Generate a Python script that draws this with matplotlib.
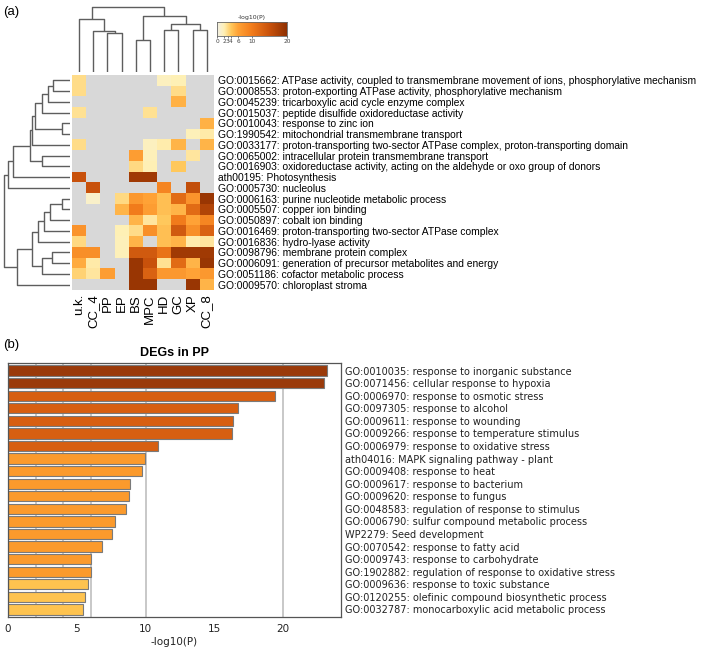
import numpy as np
import matplotlib
matplotlib.use("Agg")
import matplotlib.pyplot as plt
from matplotlib.colors import LinearSegmentedColormap, BoundaryNorm, ListedColormap

# ---------------- data: heatmap ----------------
col_labels = ["u.k.", "CC_4", "PP", "EP", "BS", "MPC", "HD", "GC", "XP", "CC_8"]
row_labels = [
    "GO:0015662: ATPase activity, coupled to transmembrane movement of ions, phosphorylative mechanism",
    "GO:0008553: proton-exporting ATPase activity, phosphorylative mechanism",
    "GO:0045239: tricarboxylic acid cycle enzyme complex",
    "GO:0015037: peptide disulfide oxidoreductase activity",
    "GO:0010043: response to zinc ion",
    "GO:1990542: mitochondrial transmembrane transport",
    "GO:0033177: proton-transporting two-sector ATPase complex, proton-transporting domain",
    "GO:0065002: intracellular protein transmembrane transport",
    "GO:0016903: oxidoreductase activity, acting on the aldehyde or oxo group of donors",
    "ath00195: Photosynthesis",
    "GO:0005730: nucleolus",
    "GO:0006163: purine nucleotide metabolic process",
    "GO:0005507: copper ion binding",
    "GO:0050897: cobalt ion binding",
    "GO:0016469: proton-transporting two-sector ATPase complex",
    "GO:0016836: hydro-lyase activity",
    "GO:0098796: membrane protein complex",
    "GO:0006091: generation of precursor metabolites and energy",
    "GO:0051186: cofactor metabolic process",
    "GO:0009570: chloroplast stroma",
]
n = np.nan
heat_values = [
    # u.k. CC_4  PP   EP    BS    MPC   HD    GC    XP    CC_8
    [3.0, n,    n,   n,    n,    n,    1.6,  2.0,  n,    n],
    [3.0, n,    n,   n,    n,    n,    n,    3.0,  n,    n],
    [n,   n,    n,   n,    n,    n,    n,    5.2,  n,    n],
    [2.8, n,    n,   n,    n,    2.8,  n,    n,    n,    n],
    [n,   n,    n,   n,    n,    n,    n,    n,    n,    5.2],
    [n,   n,    n,   n,    n,    n,    n,    n,    1.8,  2.3],
    [3.0, n,    n,   n,    n,    1.6,  2.2,  5.0,  n,    5.0],
    [n,   n,    n,   n,    6.5,  1.8,  n,    n,    2.5,  n],
    [n,   n,    n,   n,    3.2,  2.0,  n,    4.0,  n,    n],
    [15.0, n,   n,   n,    18.5, 18.5, n,    n,    n,    n],
    [n,   15.0, n,   n,    n,    n,    9.0,  n,    15.5, n],
    [n,   1.2,  n,   3.2,  7.0,  6.0,  4.5,  12.0, 7.5,  19.0],
    [n,   n,    n,   5.0,  10.0, 6.5,  4.5,  5.0,  12.0, 17.0],
    [n,   n,    n,   n,    5.0,  2.5,  4.0,  10.0, 6.0,  9.0],
    [7.5, n,    n,   2.0,  3.0,  8.0,  4.5,  14.0, 8.0,  13.0],
    [3.2, n,    n,   1.8,  5.0,  n,    4.5,  5.0,  2.2,  2.5],
    [8.0, 8.0,  n,   1.8,  14.0, 14.0, 11.0, 18.5, 18.5, 18.5],
    [5.5, 2.3,  n,   n,    19.0, 15.0, 2.8,  12.0, 5.0,  19.0],
    [3.5, 2.5,  6.5, n,    19.0, 13.0, 7.0,  7.0,  6.0,  7.0],
    [n,   n,    n,   n,    19.0, 19.0, n,    n,    19.0, 5.0],
]
colorbar_ticks = [0, 2, 3, 4, 6, 10, 20]

# dendrogram merges: (child_a, child_b, height); ids >= n_leaves refer to earlier merges
col_merges = [(2, 3, 39.4), (1, 10, 41.0), (0, 11, 53.3), (4, 5, 31.7), (6, 7, 41.7),
              (8, 9, 42.3), (14, 15, 47.7), (13, 16, 56.0), (12, 17, 65.0)]
row_merges = [(0, 1, 17), (20, 2, 22), (21, 3, 28), (4, 5, 8), (22, 23, 35), (24, 6, 38),
              (7, 8, 28), (25, 26, 40), (27, 9, 57), (28, 10, 62), (11, 12, 8), (30, 13, 20),
              (31, 14, 26), (32, 15, 32), (16, 17, 18), (34, 18, 28), (33, 35, 38),
              (36, 19, 53), (29, 37, 66)]

# ---------------- data: bar chart ----------------
bar_title = "DEGs in PP"
bar_labels = [
    "GO:0010035: response to inorganic substance",
    "GO:0071456: cellular response to hypoxia",
    "GO:0006970: response to osmotic stress",
    "GO:0097305: response to alcohol",
    "GO:0009611: response to wounding",
    "GO:0009266: response to temperature stimulus",
    "GO:0006979: response to oxidative stress",
    "ath04016: MAPK signaling pathway - plant",
    "GO:0009408: response to heat",
    "GO:0009617: response to bacterium",
    "GO:0009620: response to fungus",
    "GO:0048583: regulation of response to stimulus",
    "GO:0006790: sulfur compound metabolic process",
    "WP2279: Seed development",
    "GO:0070542: response to fatty acid",
    "GO:0009743: response to carbohydrate",
    "GO:1902882: regulation of response to oxidative stress",
    "GO:0009636: response to toxic substance",
    "GO:0120255: olefinic compound biosynthetic process",
    "GO:0032787: monocarboxylic acid metabolic process",
]
bar_values = [23.15, 23.0, 19.4, 16.7, 16.37, 16.3, 10.87, 9.99, 9.72, 8.84,
              8.79, 8.6, 7.8, 7.58, 6.8, 6.02, 6.0, 5.8, 5.63, 5.46]
bar_grid = [2, 4, 6, 10, 20]
bar_xticks = [0, 5, 10, 15, 20]
bar_bins = [0, 3, 6, 10, 20, 100]
bar_bin_colors = ["#ffe8a0", "#fec34f", "#fb9a2c", "#d75f11", "#9a3a0a"]

# ---------------- figure ----------------
W, H = 709, 651
fig = plt.figure(figsize=(W / 100, H / 100), dpi=100)
ARIAL = ["Liberation Sans", "DejaVu Sans"]


def add_ax(x0, y0, x1, y1):
    return fig.add_axes([x0 / W, 1 - y1 / H, (x1 - x0) / W, (y1 - y0) / H])


def draw_dendro(ax, merges, n_leaves, orient, color="#5e5e5e", lw=1.0):
    pos = {i: float(i) for i in range(n_leaves)}
    hgt = {i: 0.0 for i in range(n_leaves)}
    for k, (a, b, h) in enumerate(merges):
        pa, pb, ha, hb = pos[a], pos[b], hgt[a], hgt[b]
        xs = [pa, pa, pb, pb]
        ys = [ha, h, h, hb]
        if orient == "top":
            ax.plot(xs, ys, color=color, lw=lw, solid_capstyle="butt")
        else:
            ax.plot(ys, xs, color=color, lw=lw, solid_capstyle="butt")
        pos[n_leaves + k] = (pa + pb) / 2
        hgt[n_leaves + k] = h
    ax.set_axis_off()


# heatmap geometry (pixels)
hx0, hx1, hy0, hy1 = 72, 214, 75, 290
nrow, ncol = len(row_labels), len(col_labels)

cmap = LinearSegmentedColormap.from_list(
    "mscape",
    [(0.0, "#f2f0e6"), (0.1, "#fff0b5"), (0.2, "#ffc85c"), (0.3, "#ffa236"),
     (0.5, "#f27c1c"), (0.75, "#c9520c"), (1.0, "#8f3002")])
cmap.set_bad("#d8d8d8")

axh = add_ax(hx0, hy0, hx1, hy1)
data = np.array(heat_values, dtype=float)
axh.imshow(np.ma.masked_invalid(data), cmap=cmap, vmin=0, vmax=20, aspect="auto",
           interpolation="nearest")
axh.set_xticks(range(ncol))
axh.set_xticklabels(col_labels, rotation=90, fontsize=9.5, family=ARIAL)
axh.set_yticks(range(nrow))
axh.set_yticklabels(row_labels, fontsize=7.35, family=ARIAL)
axh.yaxis.tick_right()
axh.tick_params(length=0, pad=3)
for s in axh.spines.values():
    s.set_visible(False)

# column dendrogram
axc = add_ax(hx0, 0, hx1, 72)
draw_dendro(axc, col_merges, ncol, "top")
axc.set_xlim(-0.5, ncol - 0.5)
axc.set_ylim(0, 72)

# row dendrogram
axr = add_ax(0, hy0, 70, hy1)
draw_dendro(axr, row_merges, nrow, "left")
axr.set_ylim(nrow - 0.5, -0.5)
axr.set_xlim(70, 0)

# colorbar
axcb = add_ax(217, 22, 287, 36)
grad = np.linspace(0, 20, 256)[None, :]
axcb.imshow(grad, cmap=cmap, vmin=0, vmax=20, aspect="auto", extent=(0, 20, 0, 1))
axcb.set_yticks([])
axcb.set_xticks(colorbar_ticks)
axcb.set_xticklabels([str(t) for t in colorbar_ticks], fontsize=4.2, color="#444444")
axcb.tick_params(axis="x", length=1.5, width=0.5, pad=1, colors="#444444")
axcb.set_title("-log10(P)", fontsize=4.5, pad=2, color="#333333")
for s in axcb.spines.values():
    s.set_color("#666666")
    s.set_linewidth(0.6)

fig.text(3 / W, 1 - 12 / H, "(a)", fontsize=9.5, family=ARIAL, va="center", ha="left")
fig.text(3 / W, 1 - 345 / H, "(b)", fontsize=9.5, family=ARIAL, va="center", ha="left")

# ---------------- bar chart ----------------
axb = add_ax(8, 363, 341, 617)
ypos = np.arange(len(bar_values))
norm = BoundaryNorm(bar_bins, len(bar_bin_colors))
bcmap = ListedColormap(bar_bin_colors)
colors = [bcmap(norm(v)) for v in bar_values]
for g in bar_grid:
    axb.axvline(g, color="#c4c4c4", lw=1.3, zorder=0)
axb.barh(ypos, bar_values, height=0.82, color=colors, edgecolor="#7a7a7a",
         linewidth=0.8, zorder=2)
axb.set_ylim(len(bar_values) - 0.4, -0.6)
axb.set_xlim(0, 24.2)
axb.set_yticks(ypos)
axb.set_yticklabels(bar_labels, fontsize=7.0, color="#222222")
axb.yaxis.tick_right()
axb.tick_params(axis="y", length=0, pad=3)
axb.set_xticks(bar_xticks)
axb.set_xticklabels([str(t) for t in bar_xticks], fontsize=7.5, color="#222222")
axb.tick_params(axis="x", length=0, pad=5)
axb.set_xlabel("-log10(P)", fontsize=7.5, labelpad=2, color="#222222")
axb.set_title(bar_title, fontsize=9, fontweight="bold", family=ARIAL, pad=5)
for s in axb.spines.values():
    s.set_color("#555555")
    s.set_linewidth(0.9)

fig.savefig("out.png", dpi=100)
